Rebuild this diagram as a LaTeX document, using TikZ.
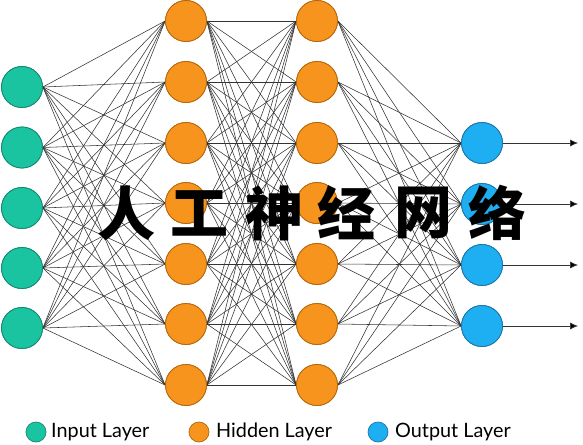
\documentclass[tikz,border=0pt]{standalone}
\usepackage{fontspec}
\setmainfont{Lato}
\newfontfamily\cjkfont{Noto Sans CJK SC}
\usetikzlibrary{arrows.meta}
\definecolor{teal1}{HTML}{1BC4A0}
\definecolor{teal2}{HTML}{128A70}
\definecolor{orng1}{HTML}{F7941D}
\definecolor{orng2}{HTML}{B5680C}
\definecolor{blue1}{HTML}{1EAEF2}
\definecolor{blue2}{HTML}{1B77A8}
\definecolor{edgec}{HTML}{333333}
\begin{document}
\begin{tikzpicture}[x=1pt,y=-1pt,
  neuron/.style={circle,minimum size=41pt,inner sep=0pt,line width=0.8pt},
  inp/.style={neuron,fill=teal1,draw=teal2},
  hid/.style={neuron,fill=orng1,draw=orng2},
  outp/.style={neuron,fill=blue1,draw=blue2},
  legdot/.style={circle,minimum size=20pt,inner sep=0pt,line width=0.7pt},
  conn/.style={draw=edgec,line width=0.55pt},
  outarrow/.style={draw=edgec,line width=0.7pt,-{Latex[length=8pt,width=7pt,fill=black]}},
  legtext/.style={anchor=west,font=\fontsize{19.8}{22}\selectfont,inner sep=0pt},
  title/.style={font=\cjkfont\bfseries\fontsize{58}{60}\selectfont,inner sep=0pt}]
\useasboundingbox (0,0) rectangle (583,444);
\fill[white] (0,0) rectangle (583,444);
% nodes (named, used as anchors for connectors)
\foreach \k/\y in {1/87,2/147.5,3/208,4/268,5/328}
  \node[inp] (i\k) at (22,\y) {};
\foreach \k/\y in {1/21,2/82,3/143,4/203,5/264,6/324,7/385}{
  \node[hid] (h\k) at (186,\y) {};
  \node[hid] (g\k) at (317,\y) {};
}
\foreach \k/\y in {1/143,2/204,3/265,4/326}
  \node[outp] (o\k) at (482,\y) {};
% connections
\foreach \a in {1,...,5}
  \foreach \b in {1,...,7}
    \draw[conn] (i\a.east) -- (h\b.west);
\foreach \a in {1,...,7}
  \foreach \b in {1,...,7}
    \draw[conn] (h\a.east) -- (g\b.west);
\foreach \a in {1,...,7}
  \foreach \b in {1,...,4}
    \draw[conn] (g\a.east) -- (o\b.west);
% redraw nodes on top of connectors
\foreach \k/\y in {1/87,2/147.5,3/208,4/268,5/328}
  \node[inp] at (22,\y) {};
\foreach \k/\y in {1/21,2/82,3/143,4/203,5/264,6/324,7/385}{
  \node[hid] at (186,\y) {};
  \node[hid] at (317,\y) {};
}
\foreach \k/\y in {1/143,2/204,3/265,4/326}
  \node[outp] at (482,\y) {};
% output arrows
\foreach \k/\y in {1/143,2/204,3/265,4/326}{
  \coordinate (e\k) at (578,\y);
  \draw[outarrow] (o\k.east) -- (e\k);
}
% title
\node[title] (t1) at (126,213) {人};
\node[title] (t2) at (199,213) {工};
\node[title] (t3) at (274,213) {神};
\node[title] (t4) at (346,213) {经};
\node[title] (t5) at (423,213) {网};
\node[title] (t6) at (497,213) {络};
% legend
\node[legdot,fill=teal1,draw=teal2] (l1) at (36,432) {};
\node[legtext] (lt1) at (51,432) {Input Layer};
\node[legdot,fill=orng1,draw=orng2] (l2) at (199,432) {};
\node[legtext] (lt2) at (216,432) {Hidden Layer};
\node[legdot,fill=blue1,draw=blue2] (l3) at (378,432) {};
\node[legtext] (lt3) at (395,432) {Output Layer};
\end{tikzpicture}
\end{document}
